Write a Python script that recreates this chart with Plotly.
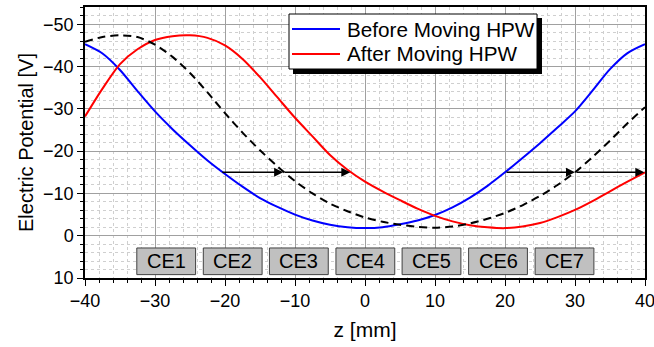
import plotly.graph_objects as go

# ---------------- data ----------------
series_names = ["Before Moving HPW", "After Moving HPW"]

z_blue = [-40, -37.5, -35, -32.5, -30, -27.5, -25, -22.5, -20, -17.5, -15, -12.5, -10, -7.5, -5, -2.5,
          0, 2.5, 5, 7.5, 10, 12.5, 15, 17.5, 20, 22.5, 25, 27.5, 30, 32.5, 35, 37.5, 40]
v_blue = [-45.3, -43.1, -39.2, -34.2, -29.4, -25.2, -21.4, -17.8, -14.6, -11.6, -8.9, -6.8, -5.0, -3.6, -2.6, -2.0,
          -1.8, -2.0, -2.7, -3.6, -4.9, -6.7, -9.0, -11.8, -15.0, -18.4, -21.9, -25.6, -29.4, -34.3, -39.4, -43.2, -45.3]

z_mid = [-40, -37.5, -35, -32.5, -30, -27.5, -25, -22.5, -20, -17.5, -15, -12.5, -10, -7.5, -5, -2.5,
         0, 2.5, 5, 7.5, 10, 12.5, 15, 17.5, 20, 22.5, 25, 27.5, 30, 32.5, 35, 37.5, 40]
v_mid = [-45.9, -47.0, -47.4, -47.0, -45.2, -42.3, -38.5, -33.9, -29.0, -24.4, -20.2, -16.4, -12.9, -10.0, -7.6, -5.8,
         -4.3, -3.3, -2.6, -2.1, -1.9, -2.2, -2.9, -4.0, -5.4, -7.2, -9.4, -12.0, -15.0, -18.6, -22.5, -26.6, -30.4]

z_red = [-40, -37.5, -35, -32.5, -30, -27.5, -25, -22.5, -20, -17.5, -15, -12.5, -10, -7.5, -5, -2.5,
         0, 2.5, 5, 7.5, 10, 12.5, 15, 17.5, 20, 22.5, 25, 27.5, 30, 32.5, 35, 37.5, 40]
v_red = [-28.2, -34.8, -40.6, -44.1, -46.3, -47.2, -47.4, -46.8, -45.0, -41.8, -37.5, -32.7, -27.9, -23.5, -19.1, -15.6,
         -12.8, -10.5, -8.4, -6.4, -4.7, -3.4, -2.5, -2.0, -1.8, -2.2, -3.0, -4.4, -6.1, -8.2, -10.5, -12.8, -15.0]

arrow_level = -15
arrow_from = [-20.6, -11.7, 20.0, 30.0]
arrow_to = [-11.7, -2.1, 30.0, 39.9]

ce_labels = ["CE1", "CE2", "CE3", "CE4", "CE5", "CE6", "CE7"]
ce_centers = [-28.4, -18.9, -9.45, 0.05, 9.5, 19.0, 28.5]
ce_top = 2.9
ce_bottom = 9.2
ce_halfwidth = 4.2

x_ticks = [-40, -30, -20, -10, 0, 10, 20, 30, 40]
y_ticks = [-50, -40, -30, -20, -10, 0, 10]

FONT = "Liberation Sans, Arial, sans-serif"
BLUE = "#0000ff"
RED = "#ff0000"

# plot-area geometry in pixels (used only for placing the legend box)
W, H = 654, 347
ML, MR, MT, MB = 85, 9, 7, 69
PW, PH = W - ML - MR, H - MT - MB


def px(x):
    return (x - ML) / PW


def py(y):
    return (H - MB - y) / PH


fig = go.Figure()
fig.add_trace(go.Scatter(x=z_blue, y=v_blue, mode="lines", name=series_names[0], showlegend=False,
                         line=dict(color=BLUE, width=2, shape="spline", smoothing=0.8)))
fig.add_trace(go.Scatter(x=z_red, y=v_red, mode="lines", name=series_names[1], showlegend=False,
                         line=dict(color=RED, width=2, shape="spline", smoothing=0.8)))
fig.add_trace(go.Scatter(x=z_mid, y=v_mid, mode="lines", showlegend=False,
                         line=dict(color="black", width=2, dash="8px,5px", shape="spline", smoothing=0.8)))

for a, b in zip(arrow_from, arrow_to):
    fig.add_annotation(x=b, y=arrow_level, ax=a, ay=arrow_level, xref="x", yref="y",
                       axref="x", ayref="y", showarrow=True, arrowhead=2, arrowsize=1.2,
                       arrowwidth=1.5, arrowcolor="black", text="")

for lab, c in zip(ce_labels, ce_centers):
    fig.add_shape(type="rect", x0=c - ce_halfwidth, x1=c + ce_halfwidth, y0=ce_top, y1=ce_bottom,
                  xref="x", yref="y", fillcolor="#c0c0c0", line=dict(color="#404040", width=1), layer="above")
    fig.add_annotation(x=c, y=(ce_top + ce_bottom) / 2, text=lab, showarrow=False,
                       font=dict(family=FONT, size=20, color="black"))

# legend box with drop shadow
fig.add_shape(type="rect", xref="paper", yref="paper", x0=px(293), x1=px(542), y0=py(74), y1=py(18),
              fillcolor="black", line=dict(width=0), layer="above")
fig.add_shape(type="rect", xref="paper", yref="paper", x0=px(289), x1=px(537), y0=py(69), y1=py(14),
              fillcolor="white", line=dict(color="black", width=1), layer="above")
for name, col, yy in zip(series_names, [BLUE, RED], [29, 54]):
    fig.add_shape(type="line", xref="paper", yref="paper", x0=px(292), x1=px(340), y0=py(yy), y1=py(yy),
                  line=dict(color=col, width=2), layer="above")
    fig.add_annotation(xref="paper", yref="paper", x=px(345), y=py(yy), text=name, showarrow=False,
                       xanchor="left", yanchor="middle", font=dict(family=FONT, size=20.7, color="black"))

fig.update_layout(
    width=W, height=H,
    margin=dict(l=ML, r=MR, t=MT, b=MB, autoexpand=False),
    plot_bgcolor="white", paper_bgcolor="white",
    font=dict(family=FONT, size=18, color="black"),
    showlegend=False,
)
fig.update_xaxes(range=[-40, 40], tickvals=x_ticks, showline=True, linecolor="black", linewidth=1.5,
                 mirror=True, ticks="outside", ticklen=6, tickcolor="black", ticklabeloverflow="allow",
                 automargin=False,
                 showgrid=True, gridcolor="#a0a0a0", gridwidth=1.2, zeroline=False,
                 minor=dict(dtick=2, showgrid=True, gridcolor="#cfcfcf", griddash="dot",
                            ticks="outside", ticklen=3, tickcolor="black"),
                 title=dict(text="z [mm]", font=dict(size=21), standoff=12),
                 tickfont=dict(size=18))
fig.update_yaxes(range=[10, -54.1], tickvals=y_ticks, showline=True, linecolor="black", linewidth=1.5,
                 mirror=True, ticks="outside", ticklen=6, tickcolor="black", ticklabeloverflow="allow",
                 automargin=False,
                 showgrid=True, gridcolor="#a0a0a0", gridwidth=1.2, zeroline=False,
                 minor=dict(dtick=2, showgrid=True, gridcolor="#cfcfcf", griddash="dot",
                            ticks="outside", ticklen=3, tickcolor="black"),
                 title=dict(text="Electric Potential [V]", font=dict(size=20), standoff=4),
                 tickfont=dict(size=18))

fig.write_html("out.html", post_script="document.body.style.margin='0px';",
               config={"displayModeBar": False})
